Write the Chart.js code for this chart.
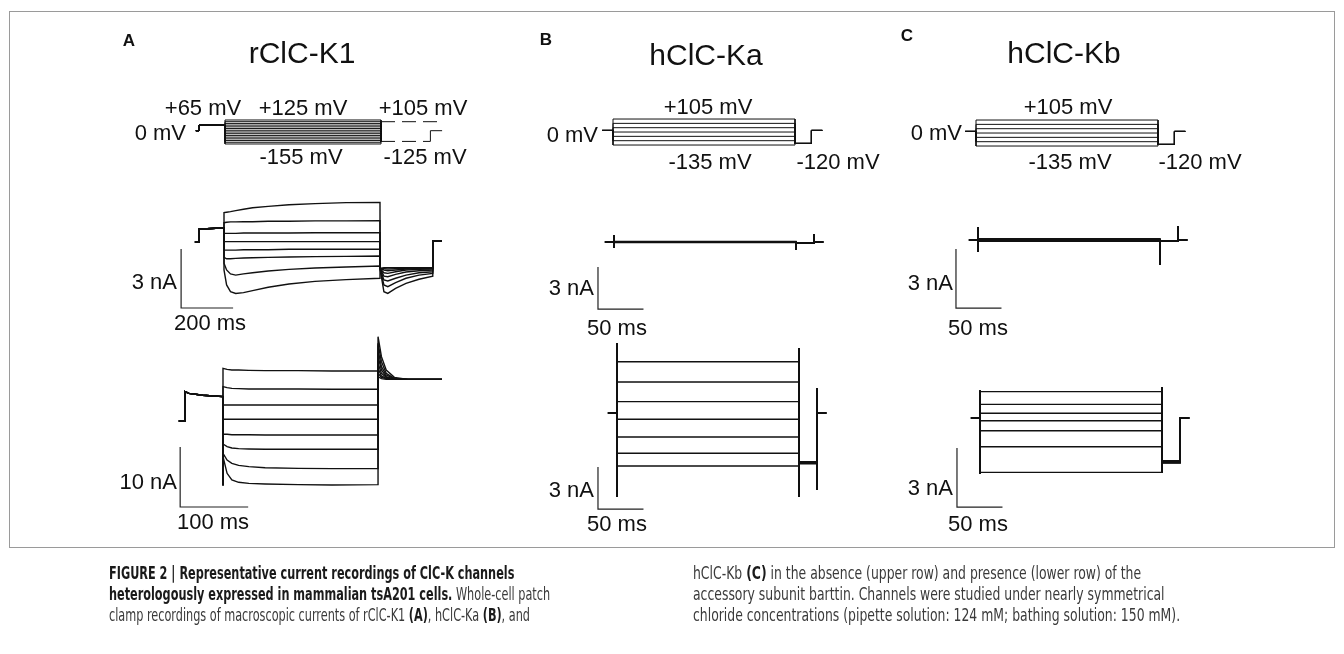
<!DOCTYPE html>
<html>
<head>
<meta charset="utf-8">
<script src="https://cdn.jsdelivr.net/npm/chart.js@4.4.1/dist/chart.umd.min.js"></script>
<style>
  body { margin: 0; background: #fff; }
  #wrap { position: relative; width: 1344px; height: 654px; overflow: hidden; font-family: "Liberation Sans", Arial, sans-serif; }
  #frame { position: absolute; left: 9px; top: 11px; width: 1326px; height: 537px; border: 1px solid #9a9a9a; box-sizing: border-box; }
  #traces { position: absolute; left: 0; top: 0; }
  .lb { position: absolute; white-space: nowrap; font-size: 22px; line-height: 1; color: #111; }
  .ttl { font-size: 30px; }
  .let { font-size: 17px; font-weight: bold; }
  .cap { position: absolute; white-space: nowrap; font-family: "DejaVu Sans Condensed", "Liberation Sans", sans-serif; font-size: 18px; line-height: 21px; color: #3a3a3a; transform-origin: 0 0; }
  .cap b { color: #1a1a1a; }
</style>
</head>
<body>
<div id="wrap">
  <div id="frame"></div>
  <canvas id="traces" width="1344" height="654"></canvas>
  <div class="cap" id="capL" style="left:109px; top:562px;">
    <b>FIGURE 2 | Representative current recordings of ClC-K channels</b><br>
    <b>heterologously expressed in mammalian tsA201 cells.</b> Whole-cell patch<br>
    clamp recordings of macroscopic currents of rClC-K1 <b>(A)</b>, hClC-Ka <b>(B)</b>, and
  </div>
  <div class="cap" id="capR" style="left:693px; top:562px;">
    hClC-Kb <b>(C)</b> in the absence (upper row) and presence (lower row) of the<br>
    accessory subunit barttin. Channels were studied under nearly symmetrical<br>
    chloride concentrations (pipette solution: 124 mM; bathing solution: 150 mM).
  </div>
</div>
<script>
// ---------- labels ----------
var panelLetters = ["A", "B", "C"];
var panelTitles = ["rClC-K1", "hClC-Ka", "hClC-Kb"];
var aVoltLabels = ["+65 mV", "+125 mV", "+105 mV", "0 mV", "-155 mV", "-125 mV"];
var bVoltLabels = ["+105 mV", "0 mV", "-135 mV", "-120 mV"];
var cVoltLabels = ["+105 mV", "0 mV", "-135 mV", "-120 mV"];

// ---------- panel A, rClC-K1: voltage protocol (ms, mV) ----------
var aProtoSteps = [-155, -135, -115, -95, -75, -55, -35, -15, 5, 25, 45, 65, 85, 105, 125];
var aProtoT = [-112, -100, 0, 600];
var aHoldV = 0, aPreV = 65;
var aTailHighV = 105, aTailLowV = -125;
var aTailT = [600, 790, 835];

// ---------- panel A, upper row (no barttin): current (ms, nA) ----------
var aTopPreT = [-112, -96, -96, 0];
var aTopPreI = [0, 0, 0.65, 0.72];
var aTopTestT = [0, 10, 25, 45, 75, 110, 170, 250, 350, 470, 600];
var aTopTest = [
  [1.49, 1.51, 1.54, 1.59, 1.66, 1.74, 1.81, 1.89, 1.95, 2.00, 2.01],
  [0.98, 1.00, 1.02, 1.02, 1.03, 1.03, 1.05, 1.05, 1.07, 1.07, 1.08],
  [0.44, 0.44, 0.44, 0.44, 0.46, 0.46, 0.46, 0.46, 0.47, 0.47, 0.47],
  [0.02, 0.02, 0.02, 0.02, 0.02, 0.02, 0.02, 0.02, 0.02, 0.02, 0.02],
  [-0.41, -0.41, -0.41, -0.41, -0.39, -0.39, -0.39, -0.37, -0.37, -0.37, -0.37],
  [-0.78, -0.85, -0.85, -0.83, -0.81, -0.80, -0.78, -0.76, -0.74, -0.73, -0.71],
  [-1.08, -1.42, -1.62, -1.68, -1.62, -1.56, -1.47, -1.39, -1.32, -1.27, -1.22],
  [-1.42, -2.18, -2.52, -2.61, -2.57, -2.47, -2.30, -2.13, -2.00, -1.91, -1.84]
];
var aTopTailT = [600, 615, 630, 660, 700, 750, 803];
var aTopTail = [
  [-1.34, -2.52, -2.61, -2.35, -2.10, -1.89, -1.73],
  [-1.34, -2.18, -2.27, -2.06, -1.84, -1.68, -1.59],
  [-1.34, -1.93, -1.98, -1.84, -1.68, -1.56, -1.51],
  [-1.34, -1.73, -1.76, -1.64, -1.52, -1.46, -1.42],
  [-1.34, -1.56, -1.59, -1.51, -1.42, -1.39, -1.37],
  [-1.34, -1.42, -1.46, -1.42, -1.37, -1.35, -1.34],
  [-1.34, -1.35, -1.37, -1.35, -1.34, -1.32, -1.32],
  [-1.34, -1.30, -1.30, -1.30, -1.30, -1.30, -1.30]
];
var aTopPostT = [803, 837];
var aTopPostI = [0.05, 0.05];

// ---------- panel A, lower row (with barttin) ----------
var aBotPreT = [-65, -56, -56, -50, -30, 0];
var aBotPreI = [0, 0, 4.9, 4.6, 4.3, 4.06];
var aBotCap = -10.7;
var aBotTestT = [0, 6, 13, 23, 38, 62, 111, 160, 228];
var aBotTest = [
  [8.78, 8.61, 8.50, 8.50, 8.44, 8.39, 8.39, 8.33, 8.33],
  [5.72, 5.56, 5.44, 5.39, 5.33, 5.33, 5.33, 5.28, 5.28],
  [2.67, 2.67, 2.67, 2.67, 2.67, 2.67, 2.67, 2.67, 2.67],
  [0.28, 0.28, 0.28, 0.28, 0.28, 0.28, 0.28, 0.28, 0.28],
  [-2.22, -2.22, -2.28, -2.28, -2.28, -2.33, -2.33, -2.33, -2.33],
  [-3.83, -4.28, -4.50, -4.61, -4.67, -4.72, -4.72, -4.72, -4.72],
  [-5.39, -6.50, -7.06, -7.39, -7.61, -7.78, -7.89, -7.94, -7.94],
  [-5.94, -8.72, -9.83, -10.22, -10.39, -10.50, -10.61, -10.67, -10.61]
];
var aBotTailT = [228, 233, 240, 252, 272, 322];
var aBotTail = [
  [14.06, 10.72, 8.50, 7.28, 6.94, 6.94],
  [12.94, 9.89, 7.94, 7.11, 6.94, 6.94],
  [11.83, 9.06, 7.67, 7.06, 6.94, 6.94],
  [10.72, 8.50, 7.39, 7.00, 6.94, 6.94],
  [9.61, 7.94, 7.28, 7.00, 6.94, 6.94],
  [8.78, 7.50, 7.11, 6.94, 6.94, 6.94],
  [7.94, 7.28, 7.06, 6.94, 6.94, 6.94],
  [7.39, 7.06, 6.94, 6.94, 6.94, 6.94]
];

// ---------- panels B and C: voltage protocols ----------
var bProtoSteps = [-135, -95, -55, -15, 25, 65, 105];
var cProtoSteps = [-135, -95, -55, -15, 25, 65, 105];
var bcProtoT = [-12, 0, 200, 218, 230];
var bcTailV = -120;

// ---------- panels B and C: currents, time points shared ----------
var bcT = { pre: -10, on: 0, off: 200, tailEnd: 220, end: 230 };
var bTopLevels = [0.04, 0.03, 0.01, 0, -0.01, -0.03, -0.04];
var bTopTail = [-0.07, -0.07, -0.07, -0.07, -0.07, -0.07, -0.07];
var bTopCap = { on: [0.5, -0.43], off: [-0.57], tail: [0.57] };

var bBotLevels = [3.66, 2.21, 0.81, -0.45, -1.71, -2.88, -3.79];
var bBotTail = [-3.48, -3.50, -3.53, -3.55, -3.58, -3.60, -3.62];
var bBotCap = { on: [5.0, -6.0], off: [4.64, -6.0], tail: [-5.5, 1.79] };

var cTopLevels = [0.06, 0.04, 0.02, 0, -0.02, -0.04, -0.06];
var cTopTail = [-0.05, -0.05, -0.05, -0.05, -0.05, -0.05, -0.05];
var cTopCap = { on: [0.66, -0.61], off: [-1.27], tail: [0.71] };

var cBotLevels = [1.34, 0.69, 0.24, -0.14, -0.65, -1.46, -2.76];
var cBotTail = [-2.17, -2.19, -2.21, -2.23, -2.25, -2.27, -2.29];
var cBotCap = { on: [1.39, -2.84], off: [1.57, -2.79], tail: [] };

// ---------- scale bars: [nA, ms] and corner in data units ----------
var barSize = { aTop: [3, 200], aBot: [10, 100], bTop: [3, 50], bBot: [3, 50], cTop: [3, 50], cBot: [3, 50] };
var barCorner = { aTop: [-165, -3.35], aBot: [-63, -14.33], bTop: [-17.6, -4.79], bBot: [-20.9, -6.86], cTop: [-24.2, -3.46], cBot: [-25.3, -4.52] };
var barText = { aTop: ["3 nA", "200 ms"], aBot: ["10 nA", "100 ms"], bTop: ["3 nA", "50 ms"], bBot: ["3 nA", "50 ms"], cTop: ["3 nA", "50 ms"], cBot: ["3 nA", "50 ms"] };

// ---------- layout: pixel origin of (0 ms, 0) and px per unit ----------
var W = 1344, H = 654;
var frames = {
  aPr: { ox: 225, oy: 130.7, kx: 0.26, ky: 0.0857 },
  aTop: { ox: 224, oy: 242, kx: 0.26, ky: 19.7 },
  aBot: { ox: 223, oy: 421, kx: 0.68, ky: 6 },
  bPr: { ox: 613, oy: 130.4, kx: 0.91, ky: 0.1083 },
  bTop: { ox: 614, oy: 242, kx: 0.91, ky: 14 },
  bBot: { ox: 617, oy: 413, kx: 0.91, ky: 14 },
  cPr: { ox: 976, oy: 131.4, kx: 0.91, ky: 0.1083 },
  cTop: { ox: 978, oy: 240, kx: 0.91, ky: 19.7 },
  cBot: { ox: 980, oy: 418, kx: 0.91, ky: 19.7 }
};

var scales = {};
Object.keys(frames).forEach(function (id) {
  var f = frames[id];
  scales["x" + id] = { type: "linear", axis: "x", display: false, min: -f.ox / f.kx, max: (W - f.ox) / f.kx };
  scales["y" + id] = { type: "linear", axis: "y", display: false, min: (f.oy - H) / f.ky, max: f.oy / f.ky };
});

function trace(id, xs, ys, extra) {
  var ds = {
    xAxisID: "x" + id, yAxisID: "y" + id,
    data: xs.map(function (x, i) { return { x: x, y: ys[i] }; }),
    showLine: true, borderColor: "#111", borderWidth: 1.4,
    pointRadius: 0, fill: false, tension: 0
  };
  return Object.assign(ds, extra || {});
}

var datasets = [];

// protocol A
aProtoSteps.forEach(function (v) {
  datasets.push(trace("aPr",
    [aProtoT[0], aProtoT[1], aProtoT[1], aProtoT[2], aProtoT[2], aProtoT[3], aProtoT[3]],
    [aHoldV, aHoldV, aPreV, aPreV, v, v, aTailLowV], { borderWidth: 1 }));
});
datasets.push(trace("aPr", [aTailT[0], aTailT[2]], [aTailHighV, aTailHighV], { borderWidth: 1, borderDash: [14, 7] }));
datasets.push(trace("aPr", [aTailT[0], aTailT[1]], [aTailLowV, aTailLowV], { borderWidth: 1, borderDash: [14, 7] }));
datasets.push(trace("aPr", [aTailT[1], aTailT[1], aTailT[2]], [aTailLowV, aHoldV, aHoldV], { borderWidth: 1 }));

// protocols B and C
function bcProto(id, steps) {
  steps.forEach(function (v) {
    datasets.push(trace(id,
      [bcProtoT[0], bcProtoT[1], bcProtoT[1], bcProtoT[2], bcProtoT[2], bcProtoT[3], bcProtoT[3], bcProtoT[4]],
      [0, 0, v, v, bcTailV, bcTailV, 0, 0], { borderWidth: 1 }));
  });
}
bcProto("bPr", bProtoSteps);
bcProto("cPr", cProtoSteps);

// A upper currents
aTopTest.forEach(function (sw, i) {
  var xs = aTopPreT.concat(aTopTestT, aTopTailT, aTopPostT);
  var ys = aTopPreI.concat(sw, aTopTail[i], aTopPostI);
  datasets.push(trace("aTop", xs, ys));
});

// A lower currents
aBotTest.forEach(function (sw, i) {
  var xs = aBotPreT.concat([0], aBotTestT, aBotTailT);
  var ys = aBotPreI.concat([aBotCap], sw, aBotTail[i]);
  datasets.push(trace("aBot", xs, ys));
});

// B and C currents
function bcSweeps(id, levels, tails, cap) {
  levels.forEach(function (lv, i) {
    var xs = [bcT.pre, bcT.on], ys = [0, 0];
    cap.on.forEach(function (c) { xs.push(bcT.on); ys.push(c); });
    xs.push(bcT.on, bcT.off); ys.push(lv, lv);
    cap.off.forEach(function (c) { xs.push(bcT.off); ys.push(c); });
    xs.push(bcT.off, bcT.tailEnd); ys.push(tails[i], tails[i]);
    cap.tail.forEach(function (c) { xs.push(bcT.tailEnd); ys.push(c); });
    xs.push(bcT.tailEnd, bcT.end); ys.push(0, 0);
    datasets.push(trace(id, xs, ys));
  });
}
bcSweeps("bTop", bTopLevels, bTopTail, bTopCap);
bcSweeps("bBot", bBotLevels, bBotTail, bBotCap);
bcSweeps("cTop", cTopLevels, cTopTail, cTopCap);
bcSweeps("cBot", cBotLevels, cBotTail, cBotCap);

// scale bars
Object.keys(barSize).forEach(function (id) {
  var c = barCorner[id], s = barSize[id];
  datasets.push(trace(id, [c[0], c[0], c[0] + s[1]], [c[1] + s[0], c[1], c[1]], { borderWidth: 1.2, borderColor: "#222" }));
});

new Chart("traces", {
  type: "scatter",
  data: { datasets: datasets },
  options: {
    responsive: false,
    animation: false,
    events: [],
    layout: { padding: 0 },
    scales: scales,
    plugins: { legend: { display: false }, tooltip: { enabled: false } }
  }
});

// ---------- text placement ----------
var labelSpec = [
  [panelLetters[0], 129, 40, "c", "let"], [panelTitles[0], 302, 53, "c", "ttl"],
  [aVoltLabels[0], 203, 108, "c"], [aVoltLabels[1], 303, 108, "c"], [aVoltLabels[2], 423, 108, "c"],
  [aVoltLabels[3], 186, 133, "r"], [aVoltLabels[4], 301, 157, "c"], [aVoltLabels[5], 425, 157, "c"],
  [barText.aTop[0], 177, 282, "r"], [barText.aTop[1], 210, 323, "c"],
  [barText.aBot[0], 177, 482, "r"], [barText.aBot[1], 213, 522, "c"],

  [panelLetters[1], 546, 39, "c", "let"], [panelTitles[1], 706, 55, "c", "ttl"],
  [bVoltLabels[0], 708, 107, "c"], [bVoltLabels[1], 598, 135, "r"],
  [bVoltLabels[2], 710, 162, "c"], [bVoltLabels[3], 838, 162, "c"],
  [barText.bTop[0], 594, 288, "r"], [barText.bTop[1], 617, 328, "c"],
  [barText.bBot[0], 594, 490, "r"], [barText.bBot[1], 617, 524, "c"],

  [panelLetters[2], 907, 35, "c", "let"], [panelTitles[2], 1064, 53, "c", "ttl"],
  [cVoltLabels[0], 1068, 107, "c"], [cVoltLabels[1], 962, 133, "r"],
  [cVoltLabels[2], 1070, 162, "c"], [cVoltLabels[3], 1200, 162, "c"],
  [barText.cTop[0], 953, 283, "r"], [barText.cTop[1], 978, 328, "c"],
  [barText.cBot[0], 953, 488, "r"], [barText.cBot[1], 978, 524, "c"]
];
var wrap = document.getElementById("wrap");
labelSpec.forEach(function (s) {
  var d = document.createElement("div");
  d.className = "lb" + (s[4] ? " " + s[4] : "");
  d.textContent = s[0];
  d.style.left = s[1] + "px";
  d.style.top = s[2] + "px";
  d.style.transform = s[3] === "r" ? "translate(-100%,-50%)" : "translate(-50%,-50%)";
  wrap.appendChild(d);
});

// squeeze caption blocks to the column widths of the figure legend
[["capL", 441], ["capR", 487]].forEach(function (c) {
  var el = document.getElementById(c[0]);
  var w = el.getBoundingClientRect().width;
  el.style.transform = "scaleX(" + (c[1] / w).toFixed(3) + ")";
});
</script>
</body>
</html>
